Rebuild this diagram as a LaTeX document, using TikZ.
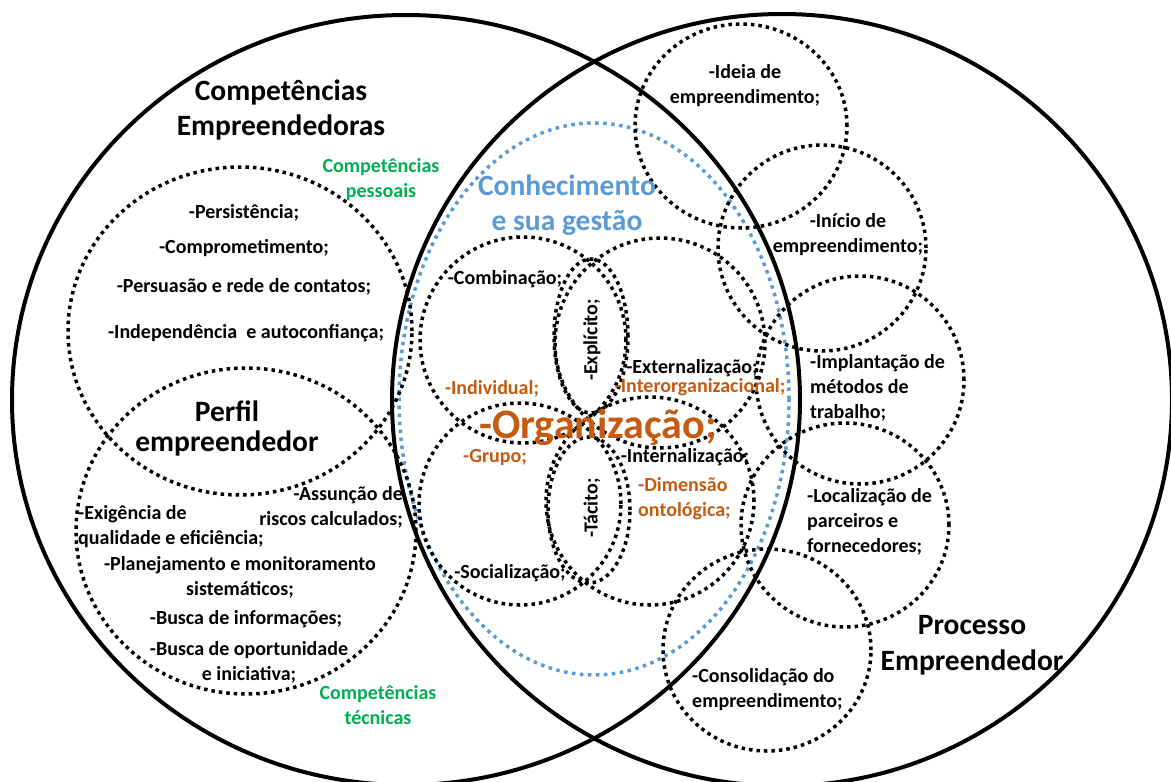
\documentclass[tikz,border=0pt]{standalone}
\usepackage{fontspec}
\setmainfont{Carlito}
\definecolor{kgreen}{HTML}{00B050}
\definecolor{kblue}{HTML}{5B9BD5}
\definecolor{korange}{HTML}{C55A11}
\begin{document}
\begin{tikzpicture}[x=1pt,y=-1pt,
  bigc/.style={draw=black, line width=4pt},
  dotc/.style={draw=black, line width=3.5pt, dash pattern=on 3.5pt off 4pt},
  bluec/.style={draw=kblue, line width=3.5pt, dash pattern=on 3.5pt off 4.5pt},
  txt/.style={font=\fontsize{20}{25}\selectfont\bfseries, inner sep=0pt, text=black},
  otxt/.style={txt, text=korange},
  gtxt/.style={font=\fontsize{20}{25}\selectfont\bfseries, inner sep=0pt, text=kgreen, align=center},
  ttl/.style={font=\fontsize{29.5}{35}\selectfont\bfseries, inner sep=0pt, align=center},
]
\useasboundingbox (0,0) rectangle (1171,782);
\fill[white] (0,0) rectangle (1171,782);
\clip (0,0) rectangle (1171,782);

% big circles
\draw[bigc] (406,400) ellipse [x radius=394pt, y radius=385pt];
\draw[bigc] (782,400) ellipse [x radius=390pt, y radius=386pt];

% knowledge ellipse
\draw[bluec] (594,399) ellipse [x radius=195pt, y radius=276pt];

% left dotted circles
\draw[dotc] (240,331) ellipse [x radius=172pt, y radius=164pt];
\draw[dotc] (246,531) ellipse [x radius=170pt, y radius=163pt];

% inner knowledge circles
\draw[dotc] (523,340) circle [radius=103pt];
\draw[dotc] (660,343) circle [radius=105pt];
\draw[dotc] (520,504) circle [radius=101pt];
\draw[dotc] (650,501) circle [radius=104pt];
\draw[dotc] (591,336) ellipse [x radius=37pt, y radius=77pt];
\draw[dotc] (589,510) ellipse [x radius=41pt, y radius=73pt];

% process circles
\draw[dotc] (741,126) ellipse [x radius=106pt, y radius=102pt];
\draw[dotc] (822,248) ellipse [x radius=104pt, y radius=103pt];
\draw[dotc] (860,380) circle [radius=104pt];
\draw[dotc] (845,525) ellipse [x radius=104pt, y radius=102pt];
\draw[dotc] (767,650) ellipse [x radius=104pt, y radius=101pt];

% titles
\node[ttl] (tCE) at (281,110) {Competências\\Empreendedoras};
\node[ttl, font=\fontsize{29.5}{30}\selectfont\bfseries] (tPE) at (227,428) {Perfil\\empreendedor};
\node[ttl, font=\fontsize{29.5}{36}\selectfont\bfseries] (tPR) at (972,645) {Processo\\Empreendedor};
\node[ttl, font=\fontsize{29.5}{35}\selectfont\bfseries, text=kblue] (tCO) at (567,205) {Conhecimento\\e sua gestão};
\node[gtxt] (gP) at (381,180) {Competências\\pessoais};
\node[gtxt] (gT) at (378,705) {Competências\\técnicas};

% personal competences
\node[txt] (c1) at (244,213) {-Persistência;};
\node[txt] (c2) at (244,248) {-Comprometimento;};
\node[txt] (c3) at (244,287) {-Persuasão e rede de contatos;};
\node[txt] (c4) at (246,333) {-Independência\ \ e autoconfiança;};

% technical competences
\node[txt, align=right, anchor=east] (c5) at (403,507) {-Assunção de\\riscos calculados;};
\node[txt, align=left, anchor=west] (c6) at (78,527) {-Exigência de\\qualidade e eficiência;};
\node[txt, align=center] (c7) at (240,577) {-Planejamento e monitoramento\\sistemáticos;};
\node[txt] (c8) at (246,619) {-Busca de informações;};
\node[txt, align=center] (c9) at (249,662) {-Busca de oportunidade\\e iniciativa;};

% knowledge
\node[txt] (k1) at (505,279) {-Combinação;};
\node[txt, rotate=90] (k2) at (592,340) {-Explícito;};
\node[txt] (k3) at (692,368) {-Externalização;};
\node[otxt] (k4) at (492,389) {-Individual;};
\node[otxt] (k5) at (700,387) {-Interorganizacional;};
\node[otxt, font=\fontsize{42}{44}\selectfont\bfseries] (k6) at (598,427) {-Organização;};
\node[otxt] (k7) at (495,458) {-Grupo;};
\node[txt] (k8) at (685,457) {-Internalização;};
\node[txt, rotate=90] (k9) at (592,508) {-Tácito;};
\node[otxt, align=left, anchor=west] (k10) at (638,499) {-Dimensão\\ontológica;};
\node[txt] (k11) at (510,573) {-Socialização;};

% process
\node[txt, align=center] (p1) at (745,86) {-Ideia de\\empreendimento;};
\node[txt, align=center] (p2) at (848,235) {-Início de\\empreendimento;};
\node[txt, align=left, anchor=west] (p3) at (810,388) {-Implantação de\\métodos de\\trabalho;};
\node[txt, align=left, anchor=west] (p4) at (807,522) {-Localização de\\parceiros e\\fornecedores;};
\node[txt, align=left, anchor=west] (p5) at (692,690) {-Consolidação do\\empreendimento;};
\end{tikzpicture}
\end{document}
